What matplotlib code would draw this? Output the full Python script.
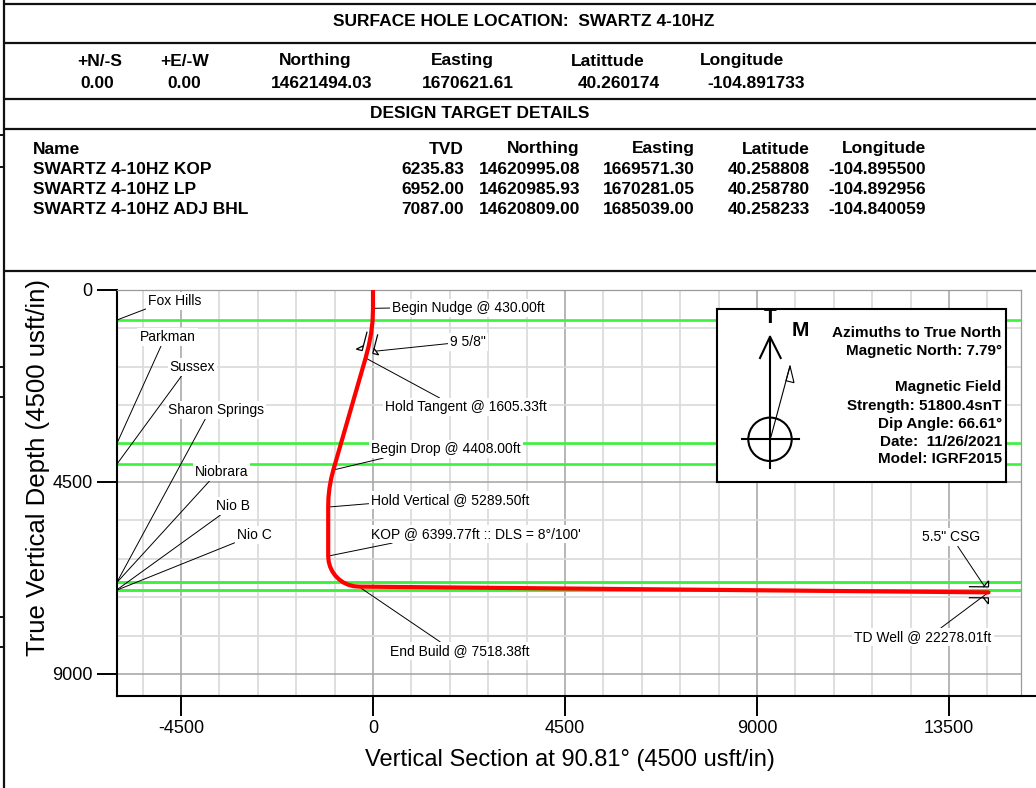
import numpy as np
import matplotlib
matplotlib.use('Agg')
import matplotlib.pyplot as plt
from matplotlib.lines import Line2D
from matplotlib.patches import Polygon, Circle
from matplotlib.transforms import IdentityTransform

plt.rcParams['font.family'] = ['Liberation Sans', 'DejaVu Sans']
plt.rcParams['axes.unicode_minus'] = False

# ---------------- data ----------------
shl_title = 'SURFACE HOLE LOCATION:  SWARTZ 4-10HZ'
shl_headers = ['+N/-S', '+E/-W', 'Northing', 'Easting', 'Latittude', 'Longitude']
shl_values = ['0.00', '0.00', '14621494.03', '1670621.61', '40.260174', '-104.891733']

tgt_title = 'DESIGN TARGET DETAILS'
tgt_headers = ['TVD', 'Northing', 'Easting', 'Latitude', 'Longitude']
tgt_names = ['SWARTZ 4-10HZ KOP', 'SWARTZ 4-10HZ LP', 'SWARTZ 4-10HZ ADJ BHL']
tgt_tvd = ['6235.83', '6952.00', '7087.00']
tgt_northing = ['14620995.08', '14620985.93', '14620809.00']
tgt_easting = ['1669571.30', '1670281.05', '1685039.00']
tgt_lat = ['40.258808', '40.258780', '40.258233']
tgt_lon = ['-104.895500', '-104.892956', '-104.840059']

# well path: vertical section (ft) vs TVD (ft)
well_vs = [0, 0, -10, -45, -100, -175, -930, -983, -1021, -1044, -1050, -1050,
           -1039, -1007, -954, -882, -794, -692, -579, -459, -334, 14425]
well_tvd = [0, 430, 730, 1020, 1310, 1600, 4219, 4432, 4649, 4867, 5087, 6236,
            6360, 6481, 6594, 6696, 6784, 6856, 6909, 6941, 6952, 7087]

formation_names = ['Fox Hills', 'Parkman', 'Sussex', 'Sharon Springs', 'Niobrara', 'Nio B', 'Nio C']
formation_tvd = [703, 3593, 4078, 6845, 6852, 7025, 7033]

event_labels = ['Begin Nudge @ 430.00ft', 'Hold Tangent @ 1605.33ft', 'Begin Drop @ 4408.00ft',
                'Hold Vertical @ 5289.50ft', "KOP @ 6399.77ft :: DLS = 8°/100'",
                'End Build @ 7518.38ft', 'TD Well @ 22278.01ft']
event_vs = [0, -180, -930, -1050, -1050, -334, 14425]
event_tvd = [430, 1590, 4219, 5087, 6236, 6952, 7087]

casing_labels = ['9 5/8"', '5.5" CSG']
casing_vs = [-129, 14425]
casing_tvd = [1453, 7087]

xticks = [-4500, 0, 4500, 9000, 13500]
xtick_labels = ['-4500', '0', '4500', '9000', '13500']
yticks = [0, 4500, 9000]
ytick_labels = ['0', '4500', '9000']

north_text = ['Azimuths to True North', 'Magnetic North: 7.79°', '', 'Magnetic Field',
              'Strength: 51800.4snT', 'Dip Angle: 66.61°', 'Date:  11/26/2021', 'Model: IGRF2015']

# ---------------- layout ----------------
W, H = 1036, 788
fig = plt.figure(figsize=(W / 100, H / 100), dpi=100)


def fx(x):
    return x / W


def fy(y):
    return 1 - y / H


def fline(x0, y0, x1, y1, lw=1.5, color='#111111'):
    fig.add_artist(Line2D([fx(x0), fx(x1)], [fy(y0), fy(y1)], transform=fig.transFigure,
                          color=color, lw=lw, solid_capstyle='butt'))


# page frame
for yy in [3.5, 42.5, 98.5, 128.5, 270.5]:
    fline(3, yy, W, yy, lw=1.6)
fline(3.5, 0, 3.5, H, lw=1.6)
for yy in [135, 167, 367, 397, 617, 647]:
    fline(0, yy, 5, yy, lw=1.4)

# tables
tkw = dict(fontsize=12.5, fontweight='bold', va='center')
fig.text(fx(524), fy(22), shl_title, ha='center', **tkw)
hx = [100, 185, 315, 462, 608, 742]
vx = [97, 184, 322, 468, 619, 756]
for h, x in zip(shl_headers, hx):
    fig.text(fx(x), fy(61), h, ha='center', **tkw)
for v, x in zip(shl_values, vx):
    fig.text(fx(x), fy(84), v, ha='center', **tkw)
fig.text(fx(480), fy(113), tgt_title, ha='center', **tkw)

row_y = [170, 190, 210]
fig.text(fx(33), fy(149), 'Name', ha='left', **tkw)
for n, y in zip(tgt_names, row_y):
    fig.text(fx(33), fy(y), n, ha='left', **tkw)
col_right = [464, 580, 695, 810, 926]
cols = [tgt_tvd, tgt_northing, tgt_easting, tgt_lat, tgt_lon]
for h, xr, col in zip(tgt_headers, col_right, cols):
    fig.text(fx(xr), fy(149), h, ha='right', **tkw)
    for v, y in zip(col, row_y):
        fig.text(fx(xr), fy(y), v, ha='right', **tkw)

# ---------------- main plot ----------------
ax = fig.add_axes([fx(117), fy(696), (1021 - 117) / W, (696 - 290) / H])
K = 192 / 4500.0
ax.set_xlim(-6000, -6000 + (1021 - 117) / K)
ax.set_ylim((696 - 290) / K, 0)

ax.set_xticks(xticks)
ax.set_xticklabels(xtick_labels)
ax.set_yticks(yticks)
ax.set_yticklabels(ytick_labels)
ax.set_xticks(np.arange(-5400, 15300, 900), minor=True)
ax.set_yticks(np.arange(900, 9600, 900), minor=True)
ax.tick_params(which='minor', length=0)
ax.tick_params(which='major', length=14.4, width=1.4, pad=3, labelsize=13, color='black')
ax.grid(which='minor', color='#dcdcdc', lw=1.3)
ax.grid(which='major', color='#a3a3a3', lw=1.1)
ax.set_axisbelow(True)
for s in ['left', 'bottom']:
    ax.spines[s].set_linewidth(1.5)
    ax.spines[s].set_color('black')
for s in ['top', 'right']:
    ax.spines[s].set_linewidth(0.9)
    ax.spines[s].set_color('#9a9a9a')
fline(1021, 696, W, 696, lw=1.5, color='black')

for t in formation_tvd:
    ax.axhline(t, color='#3df23d', lw=1.9, zorder=2)

box = dict(boxstyle='square,pad=0.15', fc='white', ec='none')
lead = dict(arrowstyle='-', color='black', lw=0.7, shrinkA=0, shrinkB=0)

# formation labels (text centre, relpos of leader start on label box)
form_pos = [(-4641, 258), (-4816, 1102), (-4230, 1805), (-3680, 2812),
            (-3551, 4266), (-3270, 5063), (-2789, 5742)]
form_rel = [(0, 0), (0.4, 0), (0.29, 0), (0.4, 0), (0.31, 0), (0.2, 0), (0, 0)]
for name, t, p, r in zip(formation_names, formation_tvd, form_pos, form_rel):
    ax.annotate(name, xy=(ax.get_xlim()[0], t), xytext=p, textcoords='data',
                ha='center', va='center', fontsize=10, bbox=box, zorder=4,
                arrowprops=dict(lead, relpos=r), annotation_clip=False)

# event labels
ev_pos = [(445, 422), (2180, 2742), (-47, 3727), (-47, 4922), (-47, 5719), (2039, 8461), (12891, 8133)]
ev_ha = ['left', 'center', 'left', 'left', 'left', 'center', 'center']
ev_rel = [(0, 0.5), (0.36, 1), (0.14, 0), (0, 0.25), (0.15, 0), (0.38, 1), (0.61, 1)]
for lab, vs, tvd, p, ha, r in zip(event_labels, event_vs, event_tvd, ev_pos, ev_ha, ev_rel):
    ax.annotate(lab, xy=(vs, tvd), xytext=p, textcoords='data', ha=ha, va='center',
                fontsize=10, bbox=box, zorder=4, arrowprops=dict(lead, relpos=r),
                annotation_clip=False)

# casing labels
cs_pos = [(1805, 1219), (13547, 5789)]
cs_ha = ['left', 'center']
cs_rel = [(0, 0.4), (0.59, 0)]
for lab, vs, tvd, p, ha, r in zip(casing_labels, casing_vs, casing_tvd, cs_pos, cs_ha, cs_rel):
    ax.annotate(lab, xy=(vs, tvd), xytext=p, textcoords='data', ha=ha, va='center',
                fontsize=10, bbox=box, zorder=4,
                arrowprops=dict(lead, relpos=r, shrinkB=6), annotation_clip=False)

# well path
ax.plot(well_vs, well_tvd, color='#ff0000', lw=3.0, zorder=5, solid_capstyle='round',
        solid_joinstyle='round')

# casing shoe symbols (drawn in display pixels around each shoe point)
wpts = ax.transData.transform(np.column_stack([well_vs, well_tvd]))
for vs, tvd in zip(casing_vs, casing_tvd):
    P = ax.transData.transform((vs, tvd))
    best, dvec = None, None
    for a, b in zip(wpts[:-1], wpts[1:]):
        seg = b - a
        L2 = seg @ seg
        if L2 == 0:
            continue
        u = np.clip((P - a) @ seg / L2, 0, 1)
        dist = np.linalg.norm(a + u * seg - P)
        if best is None or dist < best:
            best, dvec = dist, seg / np.sqrt(L2)
    n = np.array([-dvec[1], dvec[0]])
    for s in (1, -1):
        base = P + s * 5.5 * n
        ln = np.array([base - dvec * 19, base - dvec * 5])
        ax.add_line(Line2D(ln[:, 0], ln[:, 1], transform=IdentityTransform(), color='black',
                           lw=0.9, zorder=6, clip_on=False))
        tri = np.array([base - dvec * 5, base + s * 6 * n, base])
        ax.add_patch(Polygon(tri, closed=True, fc='white', ec='black', lw=0.9,
                             transform=IdentityTransform(), zorder=6, clip_on=False))

# axis titles
fig.text(fx(38), fy(467), 'True Vertical Depth (4500 usft/in)', rotation=90,
         ha='center', va='center', fontsize=18.5)
fig.text(fx(570), fy(760), 'Vertical Section at 90.81° (4500 usft/in)',
         ha='center', va='center', fontsize=17)

# ---------------- north arrow box ----------------
bx0, by0, bx1, by1 = 716.7, 309.3, 1005.7, 482.3
nax = fig.add_axes([fx(bx0), fy(by1), (bx1 - bx0) / W, (by1 - by0) / H])
nax.set_xlim(0, bx1 - bx0)
nax.set_ylim(by1 - by0, 0)
nax.set_xticks([])
nax.set_yticks([])
for s in nax.spines.values():
    s.set_linewidth(1.5)
    s.set_color('black')
nax.set_facecolor('white')
nax.text(53.3, 8.5, 'T', fontsize=15, fontweight='bold', ha='center', va='center')
nax.text(83.3, 21.5, 'M', fontsize=15, fontweight='bold', ha='center', va='center')
nax.plot([53.3, 53.3], [27.4, 158.7], color='black', lw=1.5)
nax.plot([43.3, 53.3, 64.0], [48.7, 27.4, 48.7], color='black', lw=1.5)
nax.add_patch(Circle((53.3, 130), 21.7, fc='none', ec='black', lw=1.5))
nax.plot([25, 82.3], [130, 130], color='black', lw=1.5)
nax.plot([54.3, 73.3], [127.4, 56.7], color='black', lw=0.8)
nax.add_patch(Polygon([[73.3, 56.7], [69.3, 71.4], [77.3, 73.4]], closed=True,
                      fc='white', ec='black', lw=0.8))
ny = [23.4, 41.7, 59.5, 77.4, 96.7, 114.7, 132.4, 150.0]
for t, y in zip(north_text, ny):
    if t:
        nax.text(285, y, t, fontsize=11, fontweight='bold', ha='right', va='center')

fig.savefig('out.png', dpi=100)
